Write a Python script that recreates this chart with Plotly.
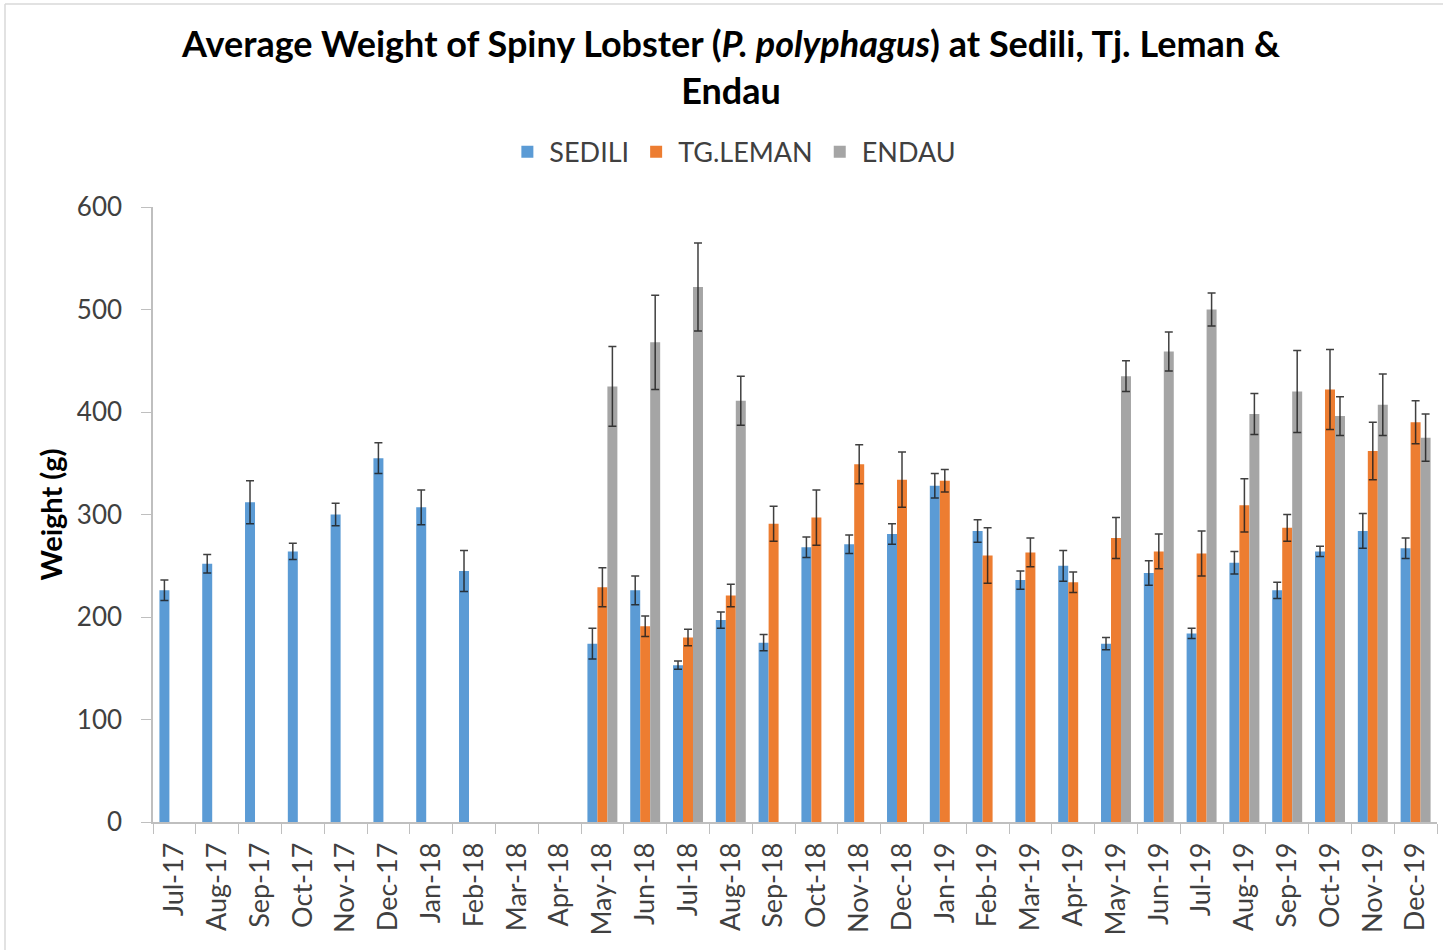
import plotly.graph_objects as go

months = ["Jul-17", "Aug-17", "Sep-17", "Oct-17", "Nov-17", "Dec-17", "Jan-18", "Feb-18",
          "Mar-18", "Apr-18", "May-18", "Jun-18", "Jul-18", "Aug-18", "Sep-18", "Oct-18",
          "Nov-18", "Dec-18", "Jan-19", "Feb-19", "Mar-19", "Apr-19", "May-19", "Jun-19",
          "Jul-19", "Aug-19", "Sep-19", "Oct-19", "Nov-19", "Dec-19"]

sedili = [226, 252, 312, 264, 300, 355, 307, 245,
          None, None, 174, 226, 153, 197, 175, 268,
          271, 281, 328, 284, 236, 250, 174, 243,
          184, 253, 226, 264, 284, 267]
sedili_err = [10, 9, 21, 8, 11, 15, 17, 20,
              None, None, 15, 14, 4, 8, 8, 10,
              9, 10, 12, 11, 9, 15, 6, 12,
              5, 11, 8, 5, 17, 10]

tgleman = [None, None, None, None, None, None, None, None,
           None, None, 229, 191, 180, 221, 291, 297,
           349, 334, 333, 260, 263, 234, 277, 264,
           262, 309, 287, 422, 362, 390]
tgleman_err = [None, None, None, None, None, None, None, None,
               None, None, 19, 10, 8, 11, 17, 27,
               19, 27, 11, 27, 14, 10, 20, 17,
               22, 26, 13, 39, 28, 21]

endau = [None, None, None, None, None, None, None, None,
         None, None, 425, 468, 522, 411, None, None,
         None, None, None, None, None, None, 435, 459,
         500, 398, 420, 396, 407, 375]
endau_err = [None, None, None, None, None, None, None, None,
             None, None, 39, 46, 43, 24, None, None,
             None, None, None, None, None, None, 15, 19,
             16, 20, 40, 19, 30, 23]

series = [
    ("SEDILI", sedili, sedili_err, "#5B9BD5"),
    ("TG.LEMAN", tgleman, tgleman_err, "#ED7D31"),
    ("ENDAU", endau, endau_err, "#A5A5A5"),
]

FONT = "Lato"

fig = go.Figure()
for name, vals, errs, color in series:
    fig.add_trace(go.Bar(
        x=months, y=vals, name=name,
        marker=dict(color=color, line=dict(width=0)),
        error_y=dict(type="data", array=errs, visible=True,
                     color="rgba(30,30,30,0.85)", thickness=1.5, width=4),
    ))

fig.update_layout(
    width=1443, height=950,
    paper_bgcolor="white", plot_bgcolor="white",
    barmode="group", bargap=0.3, bargroupgap=0,
    margin=dict(l=153, r=6, t=207, b=128, autoexpand=False),
    font=dict(family=FONT, color="#404040"),
    title=dict(
        text="Average Weight of Spiny Lobster (<i>P. polyphagus</i>) at Sedili, Tj. Leman &amp;<br>Endau",
        font=dict(family=FONT, size=36, color="black", weight="bold"),
        x=731 / 1443, xanchor="center", xref="container",
        y=1 - 57 / 950, yanchor="middle", yref="container",
    ),
    legend=dict(
        orientation="h", x=0.452, xanchor="center", y=1.089, yanchor="middle",
        font=dict(family=FONT, size=27, color="#404040"),
        traceorder="normal", itemwidth=34,
    ),
    showlegend=True,
)

fig.update_yaxes(
    range=[0, 600], dtick=100, showgrid=False, zeroline=False,
    showline=True, linecolor="#BFBFBF", linewidth=1.5,
    ticks="outside", ticklen=10, tickcolor="#BFBFBF", ticklabelstandoff=14,
    tickfont=dict(family=FONT, size=26, color="#404040"),
    title=dict(text="<b>Weight (g)</b>", font=dict(family=FONT, size=29, color="black"), standoff=6),
)
fig.update_xaxes(
    type="category", showgrid=False,
    showline=True, linecolor="#BFBFBF", linewidth=1.5,
    ticks="outside", ticklen=10, tickcolor="#BFBFBF", tickson="boundaries",
    tickangle=-90, ticklabelstandoff=8,
    tickfont=dict(family=FONT, size=27, color="#404040"),
)

# chart-area border
fig.add_shape(type="line", xref="paper", yref="paper",
              x0=(5 - 153) / 1284, x1=(1443 - 153) / 1284, y0=(822 - 4) / 615, y1=(822 - 4) / 615,
              line=dict(color="#D9D9D9", width=1.5))
fig.add_shape(type="line", xref="paper", yref="paper",
              x0=(5 - 153) / 1284, x1=(5 - 153) / 1284, y0=(822 - 4) / 615, y1=(822 - 950) / 615,
              line=dict(color="#D9D9D9", width=1.5))

fig.write_html("out.html", config={"displayModeBar": False},
               post_script="document.body.style.margin='0';document.body.style.overflow='hidden';")
